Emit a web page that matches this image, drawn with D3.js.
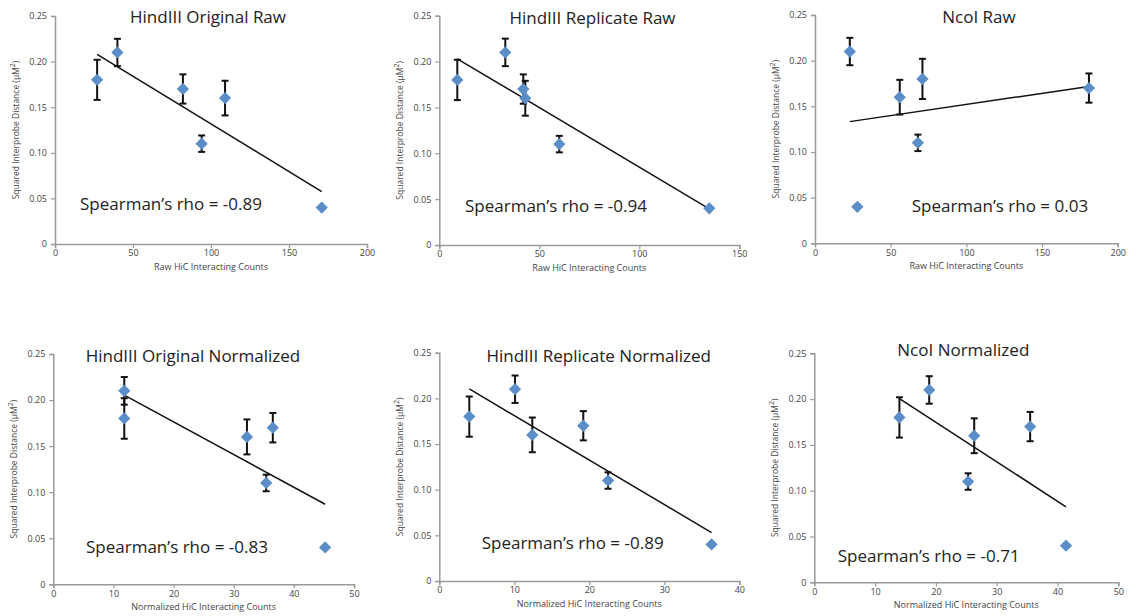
<!DOCTYPE html>
<html>
<head>
<meta charset="utf-8">
<script src="https://cdn.jsdelivr.net/npm/d3@7"></script>
<style>
  html, body { margin: 0; padding: 0; background: #fff; }
  svg { display: block; }
  text { font-family: "Open Sans", "Noto Sans", sans-serif; }
</style>
</head>
<body>
<svg id="chart" width="1131" height="616"></svg>
<script>
// Squared interprobe distance per probe pair (same six pairs in every panel)
const distance = [0.18, 0.21, 0.17, 0.11, 0.16, 0.04];
const distanceErr = [0.022, 0.015, 0.016, 0.009, 0.019, 0];

// HiC interacting counts for each probe pair, one array per dataset
const hindOrigRaw = [27, 40, 82, 94, 109, 171];
const hindRepRaw = [9, 33, 42, 60, 43, 135];
const ncoRaw = [71, 23, 181, 68, 56, 28];
const hindOrigNorm = [11.8, 11.8, 36.5, 35.4, 32.2, 45.2];
const hindRepNorm = [4.0, 10.1, 19.2, 22.5, 12.4, 36.3];
const ncoNorm = [14.0, 18.9, 35.5, 25.3, 26.3, 41.4];

const panelTitles = ["HindIII Original Raw", "HindIII Replicate Raw", "NcoI Raw",
                     "HindIII Original Normalized", "HindIII Replicate Normalized", "NcoI Normalized"];
const rhoLabels = ["Spearman\u2019s rho = -0.89", "Spearman\u2019s rho = -0.94", "Spearman\u2019s rho = 0.03",
                   "Spearman\u2019s rho = -0.83", "Spearman\u2019s rho = -0.89", "Spearman\u2019s rho = -0.71"];
const xMaxima = [200, 150, 200, 50, 40, 50];
const xTicks = [[0, 50, 100, 150, 200], [0, 50, 100, 150], [0, 50, 100, 150, 200],
                [0, 10, 20, 30, 40, 50], [0, 10, 20, 30, 40], [0, 10, 20, 30, 40, 50]];
const yTicks = [0, 0.05, 0.10, 0.15, 0.20, 0.25];
const xTitles = ["Raw HiC Interacting Counts", "Raw HiC Interacting Counts", "Raw HiC Interacting Counts",
                 "Normalized HiC Interacting Counts", "Normalized HiC Interacting Counts", "Normalized HiC Interacting Counts"];
const counts = [hindOrigRaw, hindRepRaw, ncoRaw, hindOrigNorm, hindRepNorm, ncoNorm];

// Plot frames (pixels): axis origin, right end of x axis, top of y axis, title and label anchors
const frames = [
  { x0: 55,    x1: 367,    y0: 244,   y1: 16,    tx: 208,   ty: 23,    rx: 80,    ry: 210 },
  { x0: 439.3, x1: 739.3,  y0: 245,   y1: 15.7,  tx: 592.5, ty: 24,    rx: 465,   ry: 211.7 },
  { x0: 815,   x1: 1117.7, y0: 243.3, y1: 15,    tx: 979,   ty: 23.3,  rx: 911.7, ry: 211.7 },
  { x0: 53.3,  x1: 354,    y0: 584.3, y1: 354,   tx: 193,   ty: 361.7, rx: 86,    ry: 553 },
  { x0: 439.3, x1: 739.3,  y0: 581,   y1: 352.7, tx: 598.7, ty: 362.3, rx: 481.7, ry: 549.3 },
  { x0: 814.3, x1: 1118.3, y0: 582.3, y1: 353.3, tx: 963.3, ty: 355.7, rx: 837.7, ry: 561.7 }
];

const svg = d3.select("#chart");
const axisColor = "#9a9a9a";
const markColor = "#5b8ec9";

// Ordinary least-squares trend line over the plotted points
function fitLine(xs, ys) {
  const mx = d3.mean(xs), my = d3.mean(ys);
  let sxy = 0, sxx = 0;
  xs.forEach((x, i) => { sxy += (x - mx) * (ys[i] - my); sxx += (x - mx) * (x - mx); });
  const slope = sxy / sxx;
  return x => my + slope * (x - mx);
}

frames.forEach((f, p) => {
  const xs = counts[p];
  const x = d3.scaleLinear().domain([0, xMaxima[p]]).range([f.x0, f.x1]);
  const y = d3.scaleLinear().domain([0, 0.25]).range([f.y0, f.y1]);
  const g = svg.append("g");

  // x axis
  const xAxis = g.append("g")
    .attr("transform", `translate(0,${f.y0})`)
    .call(d3.axisBottom(x).tickValues(xTicks[p]).tickSize(4).tickPadding(2).tickFormat(d3.format("d")));
  // y axis
  const yAxis = g.append("g")
    .attr("transform", `translate(${f.x0},0)`)
    .call(d3.axisLeft(y).tickValues(yTicks).tickSize(4).tickPadding(4)
      .tickFormat(d => d === 0 ? "0" : d.toFixed(2)));
  [xAxis, yAxis].forEach(a => {
    a.select(".domain").attr("stroke", axisColor).attr("stroke-width", 1.5);
    a.selectAll(".tick line").attr("stroke", axisColor).attr("stroke-width", 1.2);
    a.selectAll(".tick text").attr("fill", "#444").attr("font-size", 9)
      .attr("font-family", "\"Open Sans\", sans-serif");
  });

  // axis titles
  g.append("text")
    .attr("x", (f.x0 + f.x1) / 2)
    .attr("y", f.y0 + 26)
    .attr("text-anchor", "middle")
    .attr("font-size", 9)
    .attr("fill", "#444")
    .text(xTitles[p]);
  const yt = g.append("text")
    .attr("transform", `translate(${f.x0 - 36},${(f.y0 + f.y1) / 2}) rotate(-90)`)
    .attr("text-anchor", "middle")
    .attr("font-size", 8.5)
    .attr("fill", "#444");
  yt.append("tspan").text("Squared Interprobe Distance (\u03BCM");
  yt.append("tspan").attr("dy", -4).attr("font-size", 7).text("2");
  yt.append("tspan").attr("dy", 4).text(")");

  // trend line
  const fit = fitLine(xs, distance);
  const [xmin, xmax] = d3.extent(xs);
  g.append("line")
    .attr("x1", x(xmin)).attr("y1", y(fit(xmin)))
    .attr("x2", x(xmax)).attr("y2", y(fit(xmax)))
    .attr("stroke", "#111").attr("stroke-width", 1.5);

  // error bars
  const pts = xs.map((v, i) => ({ x: v, y: distance[i], e: distanceErr[i] }));
  const eb = g.append("g").attr("stroke", "#111").attr("stroke-width", 2);
  pts.filter(d => d.e > 0).forEach(d => {
    const cx = x(d.x);
    eb.append("line").attr("x1", cx).attr("x2", cx).attr("y1", y(d.y - d.e)).attr("y2", y(d.y + d.e));
    eb.append("line").attr("x1", cx - 3.5).attr("x2", cx + 3.5).attr("y1", y(d.y + d.e)).attr("y2", y(d.y + d.e));
    eb.append("line").attr("x1", cx - 3.5).attr("x2", cx + 3.5).attr("y1", y(d.y - d.e)).attr("y2", y(d.y - d.e));
  });

  // diamond markers
  g.append("g").selectAll("path").data(pts).join("path")
    .attr("d", d3.symbol(d3.symbolDiamond2, 96))
    .attr("transform", d => `translate(${x(d.x)},${y(d.y)})`)
    .attr("fill", markColor);

  // panel title and correlation label
  g.append("text")
    .attr("x", f.tx).attr("y", f.ty)
    .attr("text-anchor", "middle")
    .attr("font-size", 17)
    .attr("fill", "#222")
    .text(panelTitles[p]);
  g.append("text")
    .attr("x", f.rx).attr("y", f.ry)
    .attr("font-size", 17)
    .attr("fill", "#222")
    .text(rhoLabels[p]);
});
</script>
</body>
</html>
